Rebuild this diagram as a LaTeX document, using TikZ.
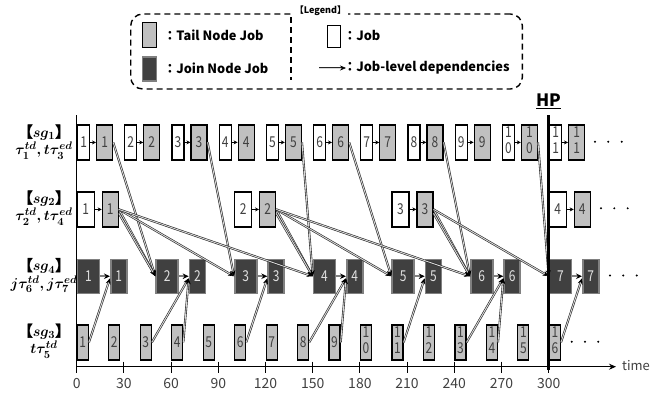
\documentclass[tikz,border=0pt]{standalone}
\usepackage{fontspec}
\usetikzlibrary{arrows.meta}
\newfontfamily\jpf{Noto Sans CJK JP}
\newfontfamily\numf{Noto Sans CJK JP}[FakeStretch=0.8]
\newfontfamily\brkf{Noto Sans CJK JP}[FakeBold=2.5]
\definecolor{tailgray}{RGB}{192,192,192}
\definecolor{joindark}{RGB}{64,64,64}
\definecolor{joinedge}{RGB}{128,128,128}
\definecolor{digitgray}{RGB}{64,64,64}
\renewcommand\arraystretch{1}
% job number: two-digit numbers are stacked so they fit the narrow boxes
\newcommand\jlab[1]{\ifnum#1>9 \begin{tabular}{@{}c@{}}1\\\number\numexpr#1-10\relax\end{tabular}\else#1\fi}
\begin{document}
\begin{tikzpicture}[x=1pt,y=-1pt,
  box/.style={rectangle, draw=black, line width=1.2pt, inner sep=0pt, anchor=north west,
    minimum height=35pt, font=\numf\fontsize{15}{15}\selectfont, text=digitgray},
  jobbox/.style={box, fill=white},
  tailbox/.style={box, fill=tailgray},
  joinbox/.style={box, fill=joindark, draw=joinedge, line width=1.5pt, text=white!88!black, minimum height=34pt},
  inrow/.style={draw=black, line width=0.9pt, -{Stealth[length=4pt,width=4pt]}},
  joinlink/.style={draw=joinedge, line width=1.6pt, -{Stealth[length=6pt,width=5.5pt,color=black]}},
  dep/.style={draw=black!85, line width=0.6pt, double=white!85!black, double distance=0.9pt,
    -{Stealth[length=6pt,width=5pt,color=black]}},
  axisline/.style={draw=black, line width=1.3pt},
  ticklbl/.style={font=\jpf\fontsize{14}{14}\selectfont, text=digitgray, inner sep=0pt},
  rowlbl/.style={font=\boldmath\fontsize{15}{17.5}\selectfont, align=center, inner sep=0pt},
  legtext/.style={font=\jpf\bfseries\fontsize{12.8}{13}\selectfont, anchor=west, inner sep=0pt},
  dotmark/.style={fill=black}
]
\useasboundingbox (0,0) rectangle (662,392);

% ---- axes ----
\coordinate (yaxtop) at (76.7,115);
\coordinate (origin) at (76.7,366.7);
\coordinate (xaxend) at (616,366.7);
\draw[axisline] (yaxtop) -- (origin);
\draw[axisline,-{Stealth[length=7pt,width=6pt]}] (origin) -- (xaxend);
\node[anchor=west, font=\jpf\fontsize{13}{13}\selectfont, text=digitgray, inner sep=0pt] (timelbl) at (622,365.5) {time};
\foreach \i in {0,...,10}{
  \pgfmathsetmacro\tx{76.7+\i*47.2}
  \pgfmathtruncatemacro\tv{\i*30}
  \draw[line width=1.1pt] (\tx,361.7) -- (\tx,372.7);
  \node[ticklbl] (tick\i) at (\tx,383.5) {\tv};
}

% ---- row labels ----
\node[rowlbl] (lab1) at (44,142) {{\brkf 【}$sg_1${\brkf 】}\\$\tau_1^{td},t\tau_3^{ed}$};
\node[rowlbl] (lab2) at (44,208) {{\brkf 【}$sg_2${\brkf 】}\\$\tau_2^{td},t\tau_4^{ed}$};
\node[rowlbl] (lab4) at (44,275.5) {{\brkf 【}$sg_4${\brkf 】}\\$j\tau_6^{td},j\tau_7^{ed}$};
\node[rowlbl] (lab3) at (44,341) {{\brkf 【}$sg_3${\brkf 】}\\$t\tau_5^{td}$};

% ---- sg1: period 30 ----
\foreach \j in {1,...,11}{
  \pgfmathsetmacro\xa{77+(\j-1)*47.2}
  \pgfmathsetmacro\xb{96+(\j-1)*47.2}
  \node[jobbox, minimum width=12pt] (s1w\j) at (\xa,124.3) {\jlab{\j}};
  \node[tailbox, minimum width=16pt] (s1g\j) at (\xb,124.3) {\jlab{\j}};
  \draw[inrow] (s1w\j.east) -- (s1g\j.west);
}
% ---- sg2: period 100 ----
\foreach \j in {1,...,4}{
  \pgfmathsetmacro\xa{76.7+(\j-1)*157.33}
  \pgfmathsetmacro\xb{101.7+(\j-1)*157.33}
  \node[jobbox, minimum width=17pt] (s2w\j) at (\xa,191.3) {\j};
  \node[tailbox, minimum width=16pt] (s2g\j) at (\xb,191.3) {\j};
  \draw[inrow] (s2w\j.east) -- (s2g\j.west);
}
% ---- sg4: period 50 ----
\foreach \j in {1,...,7}{
  \pgfmathsetmacro\xa{76.7+(\j-1)*78.67}
  \pgfmathsetmacro\xb{110+(\j-1)*78.67}
  \node[joinbox, minimum width=22pt] (s4a\j) at (\xa,258.5) {\j};
  \node[joinbox, minimum width=16pt] (s4b\j) at (\xb,258.5) {\j};
  \draw[joinlink] (s4a\j.east) -- (s4b\j.west);
}
% ---- sg3: period 20 ----
\foreach \j in {1,...,16}{
  \pgfmathsetmacro\xa{76.7+(\j-1)*31.47}
  \node[tailbox, minimum width=11pt] (s3j\j) at (\xa,324.3) {\jlab{\j}};
}

% ---- continuation dots ----
\foreach \x in {595,608.3,621.7} \fill[dotmark] (\x,141.7) circle (1.1pt);
\foreach \x in {601,614.3,627.7} \fill[dotmark] (\x,208.3) circle (1.1pt);
\foreach \x in {610,623.3,636.7} \fill[dotmark] (\x,275.5) circle (1.1pt);
\foreach \x in {571.7,585,598.3} \fill[dotmark] (\x,341.7) circle (1.1pt);

% ---- job-level dependencies ----
\foreach \s/\t in {1/2,3/3,5/4,6/5,8/6,10/7}
  \draw[dep] (s1g\s.east) -- (s4a\t.west);
\foreach \s/\t in {1/2,1/3,1/4,2/4,2/5,2/6,3/6,3/7}
  \draw[dep] (s2g\s.east) -- (s4a\t.west);
\foreach \s/\t in {1/2,2/4,3/6}
  \draw[dep] ([yshift=-4pt]s2g\s.east) -- (s4a\t.west);
\foreach \s/\t in {1/1,3/2,4/2,6/3,8/4,9/4,11/5,13/6,14/6,16/7}
  \draw[dep] (s3j\s.east) -- ([yshift=-2pt]s4b\t.west);

% ---- hyper-period marker ----
\coordinate (hptop) at (548.5,115);
\coordinate (hpbot) at (548.5,370);
\draw[line width=3.5pt] (hptop) -- (hpbot);
\node[font=\jpf\bfseries\fontsize{17}{17}\selectfont, inner sep=0pt] (hplbl) at (548.5,101.5) {\underline{HP}};

% ---- legend ----
\node[draw=black, line width=1.4pt, dash pattern=on 6pt off 4pt, rounded corners=12pt,
  minimum width=391.7pt, minimum height=75pt, anchor=north west, inner sep=0pt] (legend) at (130,13.3) {};
\node[fill=white, inner sep=2pt, font=\jpf\bfseries\fontsize{9}{9}\selectfont] (legtitle) at (320.5,10.5) {【Legend】};
\coordinate (divtop) at (291,17);
\coordinate (divbot) at (291,80);
\draw[line width=1.4pt, dash pattern=on 6pt off 4pt] (divtop) -- (divbot);
\node[tailbox, minimum width=14pt, minimum height=25pt] (lgtail) at (141.7,21.7) {};
\node[joinbox, minimum width=14pt, minimum height=24pt] (lgjoin) at (141.7,56) {};
\node[jobbox, minimum width=13pt, minimum height=22pt] (lgjob) at (326.7,25) {};
\node[legtext] (lgtailtxt) at (163.3,35) {：Tail Node Job};
\node[legtext] (lgjointxt) at (163.3,68) {：Join Node Job};
\node[legtext] (lgjobtxt) at (343.3,35) {：Job};
\node[legtext] (lgdeptxt) at (343.3,68) {：Job-level dependencies};
\coordinate (lgarrA) at (319,68);
\coordinate (lgarrB) at (346,68);
\draw[dep] (lgarrA) -- (lgarrB);
\end{tikzpicture}
\end{document}
